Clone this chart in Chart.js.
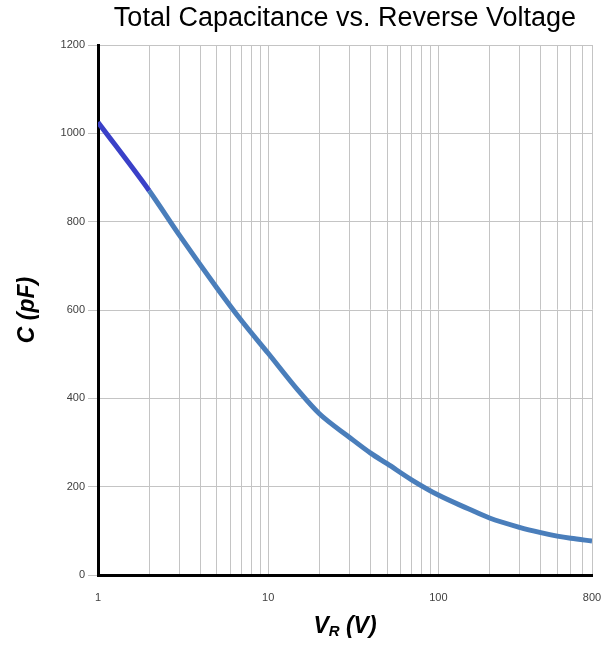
<!DOCTYPE html>
<html>
<head>
<meta charset="utf-8">
<script src="https://cdn.jsdelivr.net/npm/chart.js@4"></script>
<style>
  html, body { margin: 0; padding: 0; background: #fff; }
  #wrap { width: 615px; height: 645px; }
</style>
</head>
<body>
<div id="wrap"><canvas id="graphe"></canvas></div>
<script>
// données
const tensions = [1, 2, 3, 5, 7, 10, 15, 20, 30, 40, 50, 70, 100, 150, 200, 300, 400, 500, 600, 800];
const capacites = [1025, 870, 770, 650, 575, 502, 418, 365, 312, 276, 252, 215, 181, 150, 129, 108, 96, 88, 83, 77];
const graduationsX = [1, 2, 3, 4, 5, 6, 7, 8, 9, 10, 20, 30, 40, 50, 60, 70, 80, 90, 100, 200, 300, 400, 500, 600, 700, 800];
const etiquettesX = [1, 10, 100, 800];

const titre = 'Total Capacitance vs. Reverse Voltage';

// titre et titre d'axe X dessinés à la main (centrés sur la zone de tracé, indice R)
const textes = {
    id: 'textes',
    afterDraw(chart) {
        const { ctx, chartArea } = chart;
        const cx = (chartArea.left + chartArea.right) / 2;
        ctx.save();
        ctx.fillStyle = '#000';
        ctx.textBaseline = 'middle';
        ctx.textAlign = 'center';
        ctx.font = '27px "Liberation Sans", Arial, sans-serif';
        ctx.fillText(titre, cx, 19);

        const fGros = 'italic bold 23px "Liberation Sans", Arial, sans-serif';
        const fPetit = 'italic bold 15px "Liberation Sans", Arial, sans-serif';
        ctx.font = fGros; const w1 = ctx.measureText('V').width;
        ctx.font = fPetit; const w2 = ctx.measureText('R').width;
        ctx.font = fGros; const w3 = ctx.measureText(' (V)').width;
        let x = cx - (w1 + w2 + w3) / 2;
        const y = 627;
        ctx.textAlign = 'left';
        ctx.font = fGros; ctx.fillText('V', x, y); x += w1;
        ctx.font = fPetit; ctx.fillText('R', x, y + 5); x += w2;
        ctx.font = fGros; ctx.fillText(' (V)', x, y);
        ctx.restore();
    },
};

new Chart(document.getElementById('graphe'), {
    type: 'line',
    data: {
        labels: tensions,
        datasets: [{
            data: tensions.map((v, i) => ({ x: v, y: capacites[i] })),
            borderColor: '#4a7ebb',
            borderWidth: 5,
            pointRadius: 0,
            cubicInterpolationMode: 'monotone',
            segment: {
                borderColor: c => (c.p1.parsed.x <= 2 ? '#3a40c8' : '#4a7ebb'),
            },
        }],
    },
    options: {
        responsive: true,
        maintainAspectRatio: false,
        animation: false,
        layout: { padding: { top: 45, right: 23, left: 0, bottom: 0 } },
        scales: {
            x: {
                type: 'logarithmic',
                min: 1,
                max: 800,
                afterBuildTicks: s => { s.ticks = graduationsX.map(v => ({ value: v })); },
                afterFit: s => { s.height = 70; },
                ticks: {
                    autoSkip: false,
                    maxRotation: 0,
                    padding: 12,
                    color: '#404040',
                    font: { family: '"Liberation Sans", Arial, sans-serif', size: 11 },
                    callback: v => (etiquettesX.includes(v) ? String(v) : ''),
                },
                grid: { color: '#c4c4c4', lineWidth: 1, tickLength: 4, tickColor: 'rgba(0,0,0,0)' },
                border: { color: '#000', width: 3 },
            },
            y: {
                min: 0,
                max: 1200,
                afterFit: s => { s.width = 98; },
                ticks: {
                    stepSize: 200,
                    padding: 3,
                    color: '#404040',
                    font: { family: '"Liberation Sans", Arial, sans-serif', size: 11 },
                    callback: v => String(v),
                },
                grid: { color: '#c4c4c4', lineWidth: 1, tickLength: 10 },
                border: { color: '#000', width: 3 },
                title: {
                    display: true,
                    text: 'C (pF)',
                    color: '#000',
                    padding: { top: 14, bottom: 0 },
                    font: { family: '"Liberation Sans", Arial, sans-serif', size: 23, style: 'italic', weight: 'bold' },
                },
            },
        },
        plugins: {
            legend: { display: false },
            tooltip: { enabled: false },
        },
    },
    plugins: [textes],
});
</script>
</body>
</html>
